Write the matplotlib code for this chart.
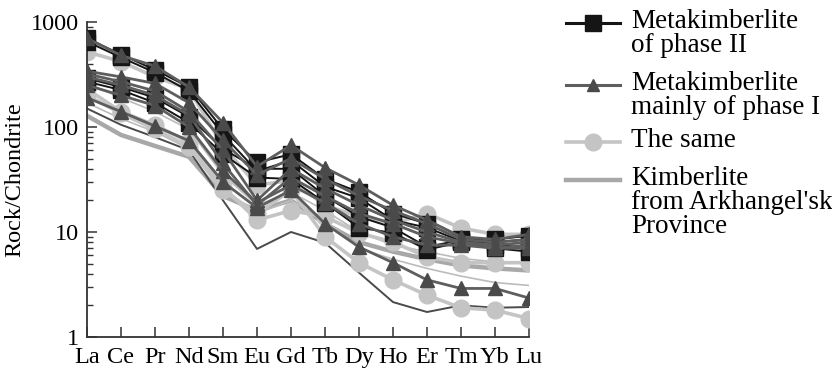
import numpy as np
import matplotlib
matplotlib.use("Agg")
import matplotlib.pyplot as plt
from matplotlib.lines import Line2D

plt.rcParams['font.family'] = ['Liberation Serif', 'DejaVu Serif']

# --- REE data (normalised to chondrite) ---
elements = ['La', 'Ce', 'Pr', 'Nd', 'Sm', 'Eu', 'Gd', 'Tb', 'Dy', 'Ho', 'Er', 'Tm', 'Yb', 'Lu']

# metakimberlite of phase II (black squares)
phase2 = [
    [700, 490, 350, 240, 95, 46, 55, 32, 24, 15, 12, 8.5, 8.5, 9.2],
    [650, 460, 330, 220, 85, 38, 48, 27, 21, 13, 11, 8.2, 8.0, 8.5],
    [290, 240, 190, 125, 62, 40, 40, 22, 14, 11, 7.2, 8.4, 7.6, 7.0],
    [270, 225, 170, 110, 55, 33, 32, 19, 11, 9.8, 6.8, 8.0, 7.0, 6.5],
]

# metakimberlite mainly of phase I (grey triangles)
phase1 = [
    [700, 480, 380, 240, 110, 42, 67, 41, 28, 18, 13, 9.0, 8.5, 9.5],
    [340, 300, 260, 170, 75, 35, 50, 32, 22, 16, 12, 8.5, 8.0, 8.5],
    [320, 270, 220, 140, 60, 20, 40, 26, 18, 13, 10, 8.0, 7.5, 8.0],
    [300, 250, 200, 130, 45, 18, 33, 22, 15, 12, 9.0, 7.8, 7.0, 7.5],
    [250, 200, 160, 100, 38, 19, 28, 19, 12, 9.0, 7.5, 7.5, 7.0, 7.0],
    [190, 140, 102, 74, 30, 17, 25, 12, 7.2, 5.1, 3.5, 2.9, 2.9, 2.35],
]

# the same (light grey circles)
same = [
    [520, 420, 300, 230, 65, 28, 31, 18, 14, 12, 15, 10.9, 9.5, 9.5],
    [230, 140, 104, 72, 27, 13, 16, 14, 9.8, 8.0, 5.8, 5.1, 5.1, 5.1],
    [200, 135, 95, 65, 25, 15, 25, 9.0, 5.1, 3.5, 2.5, 1.9, 1.8, 1.5],
]

# kimberlite from Arkhangel'sk Province (lines only)
arkh_thick = [128, 84, 66, 52, 22, 16, 20, 12, 8.0, 6.5, 5.5, 4.8, 4.5, 4.3]
arkh_thin = [
    [150, 105, 80, 60, 20, 6.9, 10, 7.9, 4.1, 2.15, 1.73, 2.0, 1.9, 1.93],
    [170, 120, 90, 62, 24, 15, 20, 13, 7.0, 5.5, 4.5, 3.8, 3.3, 3.1],
    [260, 190, 140, 95, 35, 18, 24, 16, 10, 7.5, 6.5, 5.6, 5.2, 5.0],
]

labels = ['Metakimberlite\nof phase II', 'Metakimberlite\nmainly of phase I',
          'The same', "Kimberlite\nfrom Arkhangel'sk\nProvince"]

# --- figure ---
W, H = 832, 373
fig = plt.figure(figsize=(W / 100, H / 100), dpi=100)
ax = fig.add_axes([87 / W, (H - 337) / H, (529 - 87) / W, (337 - 22) / H])

x = np.arange(len(elements))
c_sq, c_tri, c_tri_line, c_circ, c_arkh = '#151515', '#4a4a4a', '#5e5e5e', '#c4c4c4', '#a8a8a8'

ax.plot(x, arkh_thick, color=c_arkh, lw=3.2, zorder=1)
ax.plot(x, arkh_thin[0], color='#4a4a4a', lw=1.4, zorder=1)
for s in arkh_thin[1:]:
    ax.plot(x, s, color='#bcbcbc', lw=1.2, zorder=1)

for s in same:
    ax.plot(x, s, color=c_circ, lw=2.6, marker='o', ms=12, mfc=c_circ, mec=c_circ, zorder=2)
for s in phase2:
    ax.plot(x, s, color=c_sq, lw=1.4, marker='s', ms=11.5, mfc=c_sq, mec=c_sq, zorder=3)
for s in phase1:
    ax.plot(x, s, color=c_tri_line, lw=2.0, marker='^', ms=9.5, mfc=c_tri, mec=c_tri, zorder=4)

ax.set_yscale('log')
ax.set_ylim(1, 1000)
ax.set_xlim(0, 13)
ax.set_xticks(x)
ax.set_xticklabels(elements)
ax.set_yticks([1, 10, 100, 1000])
ax.set_yticklabels(['1', '10', '100', '1000'])
ax.set_ylabel('Rock/Chondrite', fontsize=17.5, labelpad=4)

for side in ['top', 'right']:
    ax.spines[side].set_visible(False)
for side in ['left', 'bottom']:
    ax.spines[side].set_linewidth(1.3)
    ax.spines[side].set_color('#333333')
ax.tick_params(axis='both', which='major', direction='in', length=7, width=1.1,
               color='#333333', labelsize=17.5)
ax.tick_params(axis='y', which='minor', direction='in', length=4, width=1.0, color='#333333')
ax.tick_params(axis='x', pad=7)
ax.tick_params(axis='y', pad=6)

# --- legend drawn by hand on the right ---
leg_y = [23, 85, 142, 180]
styles = [dict(color=c_sq, lw=2.2, marker='s', ms=11, mfc=c_sq, mec=c_sq),
          dict(color=c_tri_line, lw=2.2, marker='^', ms=9, mfc=c_tri, mec=c_tri),
          dict(color=c_circ, lw=2.6, marker='o', ms=12, mfc=c_circ, mec=c_circ),
          dict(color=c_arkh, lw=3.2)]
for yy, st, lab in zip(leg_y, styles, labels):
    fy = 1 - yy / H
    fig.add_artist(Line2D([566 / W, 620 / W], [fy, fy], transform=fig.transFigure,
                          color=st['color'], lw=st['lw']))
    if 'marker' in st:
        fig.add_artist(Line2D([593 / W], [fy], transform=fig.transFigure, ls='none',
                              marker=st['marker'], ms=st['ms'], mfc=st['mfc'], mec=st['mec']))
    fig.text(631 / W, 1 - (yy - 14) / H, lab, fontsize=19.5, va='top', ha='left',
             linespacing=0.95)

fig.savefig('out.png', dpi=100)
